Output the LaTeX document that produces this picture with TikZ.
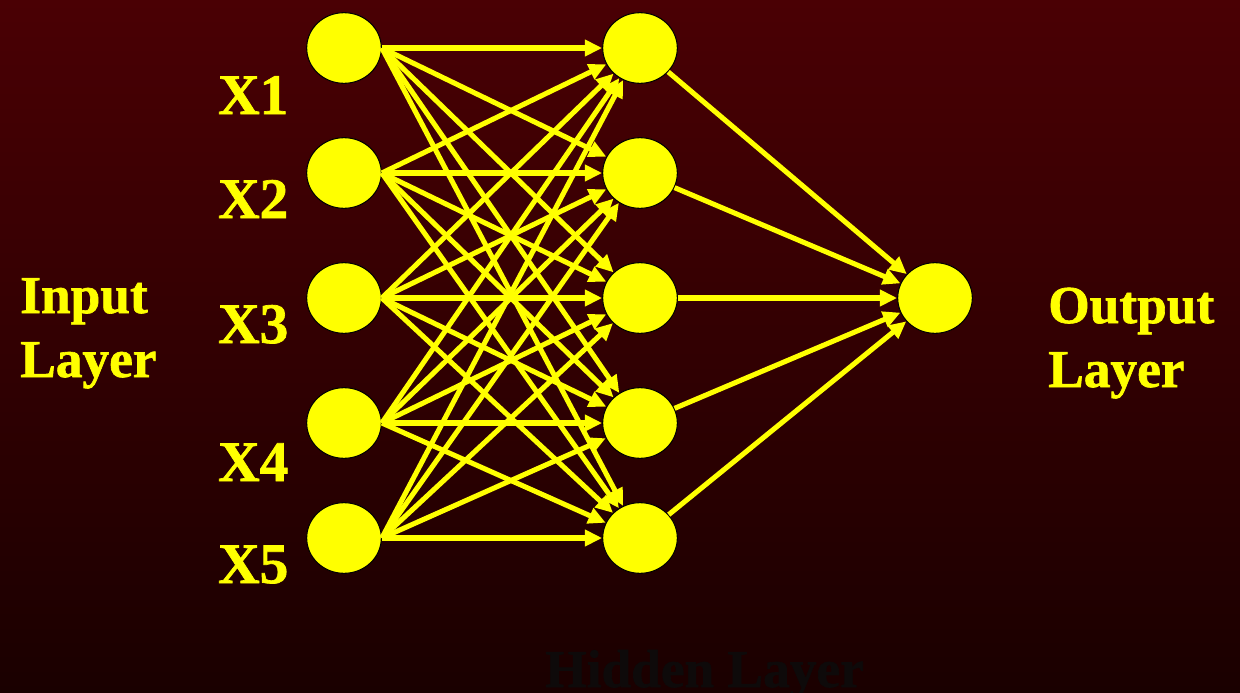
\documentclass[tikz,border=0pt]{standalone}
\usepackage{fontspec}
\setmainfont{Liberation Serif}
\newfontfamily\labelfont{Liberation Serif Bold}[FakeBold=1.2]
\usetikzlibrary{arrows.meta,shapes.geometric}
\definecolor{ylw}{RGB}{255,255,0}
\definecolor{bgtop}{RGB}{74,0,4}
\definecolor{bgbot}{RGB}{26,0,0}
\definecolor{faint}{RGB}{14,10,10}
\begin{document}
\begin{tikzpicture}[x=0.75pt,y=-0.75pt,
  unit/.style={ellipse, draw=black, line width=0.8pt, fill=ylw,
    minimum width=56pt, minimum height=53pt, inner sep=0pt},
  link/.style={draw=ylw, line width=3.8pt, -{Triangle[length=13pt,width=12pt]}},
  xlabel/.style={anchor=base west, text=ylw, inner sep=0pt,
    font=\labelfont\fontsize{43pt}{48pt}\selectfont},
  layerlabel/.style={anchor=base west, text=ylw, inner sep=0pt,
    font=\labelfont\fontsize{40pt}{48pt}\selectfont}]
  % background
  \shade[top color=bgtop, bottom color=bgbot] (0,0) rectangle (1240,693);
  \useasboundingbox (0,0) rectangle (1240,693);
  \clip (0,0) rectangle (1240,693);

  % neurons
  \foreach \i/\y in {1/48,2/173,3/298,4/423,5/538} {
    \node[unit] (i\i) at (344,\y) {};
    \node[unit] (h\i) at (640,\y) {};
  }
  \node[unit] (o) at (935,298) {};

  % connections
  \foreach \i in {1,...,5}
    \foreach \j in {1,...,5}
      \draw[link] (i\i.east) -- (h\j);
  \foreach \j in {1,...,5}
    \draw[link] (h\j) -- (o);

  % input names
  \node[xlabel] (x1) at (218,114) {X1};
  \node[xlabel] (x2) at (218,218) {X2};
  \node[xlabel] (x3) at (218,343) {X3};
  \node[xlabel] (x4) at (218,481) {X4};
  \node[xlabel] (x5) at (218,583) {X5};

  % layer names
  \node[layerlabel] (in1) at (20,313) {Input};
  \node[layerlabel] (in2) at (20,377) {Layer};
  \node[layerlabel] (out1) at (1048,323) {Output};
  \node[layerlabel] (out2) at (1048,387) {Layer};
  \node[layerlabel, text=faint] (hid) at (545,687) {Hidden Layer};
\end{tikzpicture}
\end{document}
